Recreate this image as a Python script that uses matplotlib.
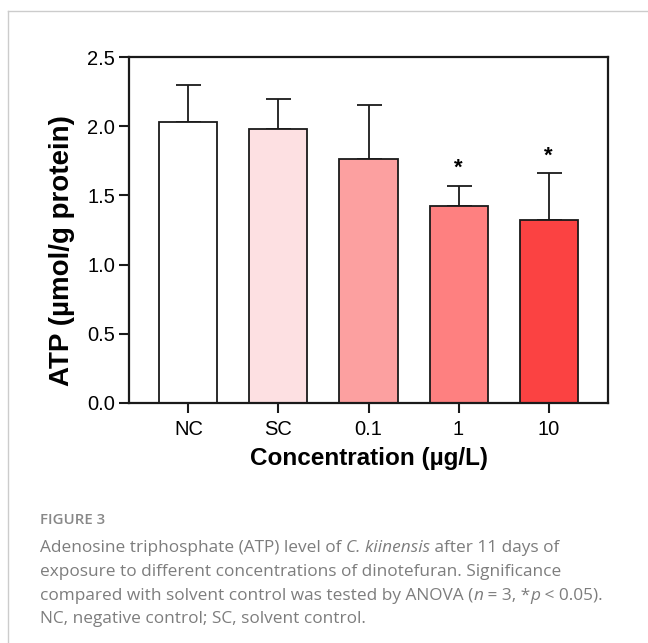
import matplotlib.pyplot as plt
import numpy as np

# ATP level per treatment group
groups = ["NC", "SC", "0.1", "1", "10"]
atp_mean = [2.03, 1.98, 1.76, 1.42, 1.32]
atp_sd = [0.27, 0.22, 0.39, 0.15, 0.34]
signif = ["", "", "", "*", "*"]
bar_colors = ["#ffffff", "#fde0e2", "#fca0a0", "#fe8080", "#fb4242"]

plt.rcParams['font.family'] = ['Liberation Sans', 'DejaVu Sans']

fig = plt.figure(figsize=(6.48, 6.43), dpi=100)
ax = fig.add_axes([129/648, 1 - 403/643, (608-129)/648, (403-57)/643])

x = np.arange(len(groups))
ax.bar(x, atp_mean, width=0.645, color=bar_colors, edgecolor='#1a1a1a', linewidth=1.3, zorder=2)
ax.errorbar(x, atp_mean, yerr=[np.zeros(len(x)), atp_sd], fmt='none', ecolor='#1a1a1a',
            elinewidth=1.3, capsize=9, capthick=1.3, zorder=1)
for xi, m, s, lab in zip(x, atp_mean, atp_sd, signif):
    if lab:
        ax.text(xi, m + s + 0.05, lab, ha='center', va='bottom', fontsize=16, fontweight='bold')

ax.set_xlim(-0.66, len(groups) - 1 + 0.66)
ax.set_ylim(0, 2.5)
ax.set_yticks([0, 0.5, 1.0, 1.5, 2.0, 2.5])
ax.set_yticklabels(["0.0", "0.5", "1.0", "1.5", "2.0", "2.5"])
ax.set_xticks(x)
ax.set_xticklabels(groups)
ax.tick_params(labelsize=14.5, width=1.5, length=7, color='#1a1a1a', pad=3)
ax.tick_params(axis='x', pad=5)
for sp in ax.spines.values():
    sp.set_linewidth(1.6)
    sp.set_color('#1a1a1a')

ax.set_xlabel("Concentration (µg/L)", fontsize=17.5, fontweight='bold')
ax.xaxis.set_label_coords(0.5, -(458 - 403) / 346)
ax.xaxis.label.set_va('center')
ax.set_ylabel("ATP (µmol/g protein)", fontsize=20, fontweight='bold')
ax.yaxis.set_label_coords(-(129 - 62) / 479, (403 - 251) / 346)
ax.yaxis.label.set_va('center')

# frame of the figure panel
fig.add_artist(plt.Line2D([8/648, 8/648], [0, 1 - 11/643], transform=fig.transFigure, color='#cccccc', lw=1))
fig.add_artist(plt.Line2D([8/648, 1], [1 - 11/643, 1 - 11/643], transform=fig.transFigure, color='#cccccc', lw=1))

# caption
cap = dict(fontsize=12.4, color='#7d7d7d', family=['Open Sans', 'DejaVu Sans'])
fig.text(40/648, 1 - 520/643, "FIGURE 3", fontweight='semibold', va='center',
         **dict(cap, color='#888888', fontsize=10.8))

lines = [
    [("Adenosine triphosphate (ATP) level of ", 'normal'), ("C. kiinensis", 'italic'),
     (" after 11 days of", 'normal')],
    [("exposure to different concentrations of dinotefuran. Significance", 'normal')],
    [("compared with solvent control was tested by ANOVA (", 'normal'), ("n", 'italic'),
     (" = 3, *", 'normal'), ("p", 'italic'), (" < 0.05).", 'normal')],
    [("NC, negative control; SC, solvent control.", 'normal')],
]
line_y = [556, 580, 604, 627]
for parts, yy in zip(lines, line_y):
    prev = None
    for txt, style in parts:
        if prev is None:
            prev = fig.text(40/648, 1 - yy/643, txt, style=style, va='bottom', ha='left', **cap)
        else:
            prev = fig.add_artist(plt.Annotation(txt, xy=(1, 0), xycoords=prev, va='bottom', ha='left',
                                                 style=style, annotation_clip=False, **cap))

fig.savefig("out.png", dpi=100)
